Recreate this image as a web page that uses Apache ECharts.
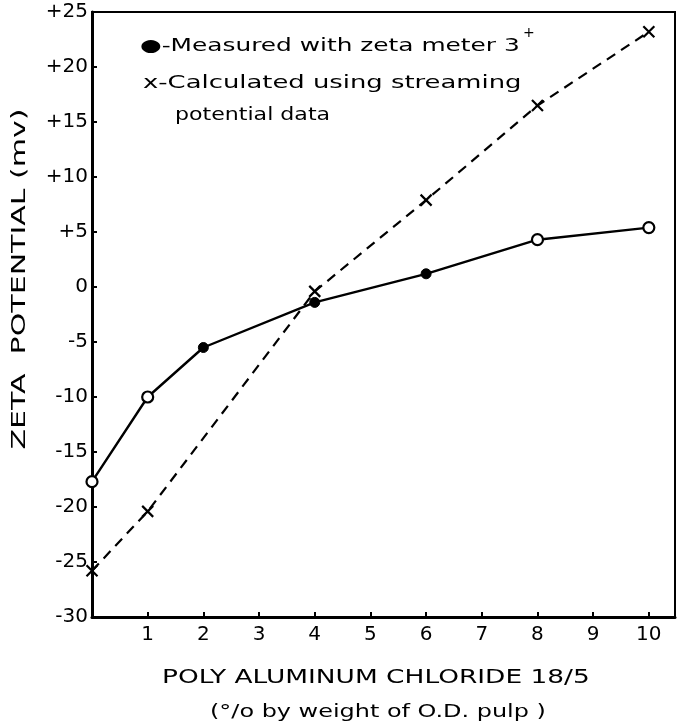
<!DOCTYPE html>
<html>
<head>
<meta charset="utf-8">
<script src="https://cdn.jsdelivr.net/npm/echarts@6/dist/echarts.min.js"></script>
<style>
  html, body { margin: 0; padding: 0; background: #fff; }
  #chart { width: 678px; height: 727px; }
</style>
</head>
<body>
<div id="chart"></div>
<script>
// ---- data ----
const measuredX = [0, 1, 2, 4, 6, 8, 10];
const measuredY = [-17.7, -10.0, -5.5, -1.4, 1.2, 4.3, 5.4];
const calculatedX = [0, 1, 4, 6, 8, 10];
const calculatedY = [-25.8, -20.4, -0.4, 7.9, 16.5, 23.2];
const xTickValues = [1, 2, 3, 4, 5, 6, 7, 8, 9, 10];
const yTickValues = [25, 20, 15, 10, 5, 0, -5, -10, -15, -20, -25, -30];

const legendLine1 = '\u25CF-Measured with zeta meter 3';
const legendLine2 = 'x-Calculated using streaming';
const legendLine3 = 'potential data';
const xTitle1 = 'POLY ALUMINUM CHLORIDE 18/5';
const xTitle2 = '(\u00B0/o by weight of O.D. pulp )';
const yTitle = 'ZETA  POTENTIAL (mv)';

// marker appearance for measured points (open vs filled), styling only
const measuredOpen = [true, true, false, false, false, true, true];

const FONT = '"DejaVu Sans", sans-serif';
const crossPath = 'path://M0,0L10,10M10,0L0,10';

const chart = echarts.init(document.getElementById('chart'));

const measuredData = measuredX.map((x, i) => ({
  value: [x, measuredY[i]],
  symbolSize: measuredOpen[i] ? 11 : 10,
  itemStyle: measuredOpen[i]
    ? { color: '#fff', borderColor: '#000', borderWidth: 2.2 }
    : { color: '#000', borderColor: '#000', borderWidth: 1 }
}));
const calculatedData = calculatedX.map((x, i) => [x, calculatedY[i]]);

function txt(text, x, y, size, sx, opts) {
  return Object.assign({
    type: 'text', x: x, y: y, scaleX: sx, scaleY: 1, z: 100,
    style: { text: text, font: size + 'px ' + FONT, fill: '#000',
             textAlign: 'left', textVerticalAlign: 'middle' }
  }, opts || {});
}

const option = {
  backgroundColor: '#fff',
  animation: false,
  grid: { left: 92, right: 3, top: 12, bottom: 110, show: true,
          borderColor: '#000', borderWidth: 2, backgroundColor: 'transparent' },
  xAxis: {
    type: 'value', min: 0, max: 10.47, interval: 1,
    splitLine: { show: false },
    axisLine: { show: true, onZero: false, lineStyle: { color: '#000', width: 3 } },
    axisTick: { show: true, inside: true, length: 5, lineStyle: { color: '#000', width: 2 } },
    axisLabel: {
      color: '#000', fontFamily: FONT, fontSize: 20, margin: 8,
      showMaxLabel: false,
      formatter: v => (xTickValues.indexOf(v) >= 0 ? String(v) : '')
    }
  },
  yAxis: {
    type: 'value', min: -30, max: 25, interval: 5,
    splitLine: { show: false },
    axisLine: { show: true, onZero: false, lineStyle: { color: '#000', width: 3 } },
    axisTick: { show: true, inside: true, length: 5, lineStyle: { color: '#000', width: 2 } },
    axisLabel: {
      color: '#000', fontFamily: FONT, fontSize: 20, margin: 4,
      formatter: v => (yTickValues.indexOf(v) >= 0 ? (v > 0 ? '+' + v : String(v)) : '')
    }
  },
  series: [
    {
      name: 'Measured', type: 'line', data: measuredData,
      symbol: 'circle', showSymbol: true, z: 3,
      lineStyle: { color: '#000', width: 2.4 }
    },
    {
      name: 'Calculated', type: 'line', data: calculatedData,
      symbol: crossPath, symbolSize: 11, z: 2,
      itemStyle: { color: 'none', borderColor: '#000', borderWidth: 2.2 },
      lineStyle: { color: '#000', width: 2.2, type: [10, 7] }
    }
  ],
  graphic: [
    txt(legendLine1, 140, 47, 17, 1.46),
    txt('+', 523, 33, 14, 1),
    txt(legendLine2, 143, 84, 17, 1.52),
    txt(legendLine3, 175, 116, 17, 1.3),
    txt(xTitle1, 162, 678, 19, 1.39),
    txt(xTitle2, 210, 712, 18, 1.33),
    {
      type: 'text', x: 20, y: 279, rotation: Math.PI / 2, scaleX: 1.58, z: 100,
      style: { text: yTitle, font: '19px ' + FONT, fill: '#000',
               textAlign: 'center', textVerticalAlign: 'middle' }
    }
  ]
};
chart.setOption(option);
</script>
</body>
</html>
